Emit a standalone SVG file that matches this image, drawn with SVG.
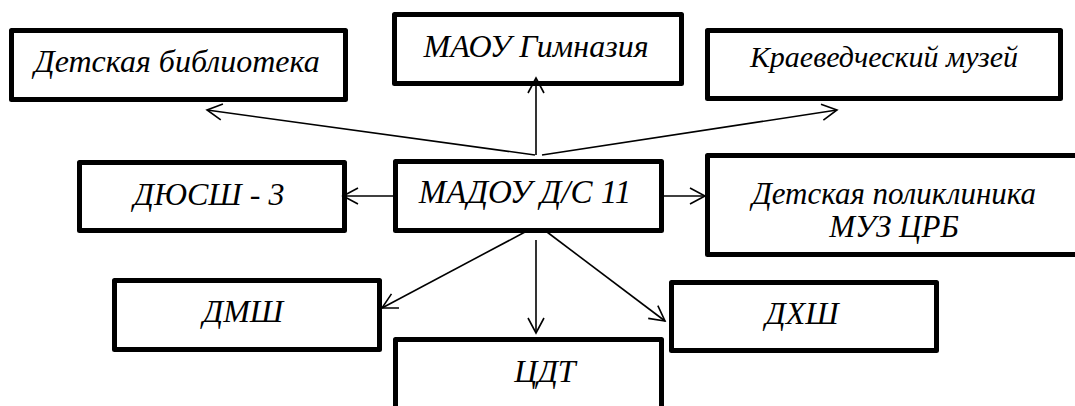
<svg xmlns="http://www.w3.org/2000/svg" width="1075" height="406" viewBox="0 0 1075 406">
<style>
.box{fill:#fff;stroke:#000;stroke-width:5;stroke-linejoin:round}
.t{font-family:"Liberation Serif","Times New Roman",serif;font-style:italic;fill:#000;text-anchor:middle}
.c{fill:none;stroke:#000;stroke-width:1.6}
</style>
<defs>
<marker id="ah" markerUnits="userSpaceOnUse" markerWidth="20" markerHeight="20" viewBox="-16 -10 20 20" refX="0" refY="0" orient="auto">
<path d="M-15,-8 L0,0 L-15,8" fill="none" stroke="#000" stroke-width="1.6"/>
</marker>
</defs>
<g id="n-lib"><rect class="box" x="11.5" y="30.5" width="334" height="69"/><text class="t" x="177" y="72" font-size="32">Детская библиотека</text></g>
<g id="n-gym"><rect class="box" x="394.5" y="14.5" width="287" height="69"/><text class="t" x="536" y="57" font-size="32">МАОУ Гимназия</text></g>
<g id="n-muz"><rect class="box" x="707.5" y="30.5" width="353" height="68"/><text class="t" x="884" y="67" font-size="30">Краеведческий музей</text></g>
<g id="n-dyussh"><rect class="box" x="79.5" y="162.5" width="265" height="68"/><text class="t" x="209" y="205" font-size="32">ДЮСШ - 3</text></g>
<g id="n-madou"><rect class="box" x="395.5" y="161.5" width="266" height="69"/><text class="t" x="525" y="203" font-size="33">МАДОУ Д/С 11</text></g>
<g id="n-poli"><rect class="box" x="707.5" y="155.5" width="380" height="99"/><text class="t" x="894" y="204" font-size="31">Детская поликлиника</text><text class="t" x="894" y="237" font-size="31">МУЗ ЦРБ</text></g>
<g id="n-dmsh"><rect class="box" x="114.5" y="280.5" width="265" height="69"/><text class="t" x="243" y="322" font-size="32">ДМШ</text></g>
<g id="n-cdt"><rect class="box" x="395.5" y="339.5" width="266" height="100"/><text class="t" x="545" y="382" font-size="32">ЦДТ</text></g>
<g id="n-dhsh"><rect class="box" x="671.5" y="282.5" width="265" height="68"/><text class="t" x="802" y="324" font-size="32">ДХШ</text></g>
<g id="connectors">
<line class="c" x1="535" y1="155" x2="207" y2="110" marker-end="url(#ah)"/>
<line class="c" x1="536" y1="155" x2="536" y2="78" marker-end="url(#ah)"/>
<line class="c" x1="542" y1="155" x2="837" y2="110" marker-end="url(#ah)"/>
<line class="c" x1="393" y1="196" x2="343" y2="196" marker-end="url(#ah)"/>
<line class="c" x1="664" y1="196" x2="705" y2="196" marker-end="url(#ah)"/>
<line class="c" x1="525" y1="232" x2="382" y2="308" marker-end="url(#ah)"/>
<line class="c" x1="536" y1="240" x2="536" y2="333" marker-end="url(#ah)"/>
<line class="c" x1="547" y1="232" x2="665" y2="321" marker-end="url(#ah)"/>
</g>
</svg>
